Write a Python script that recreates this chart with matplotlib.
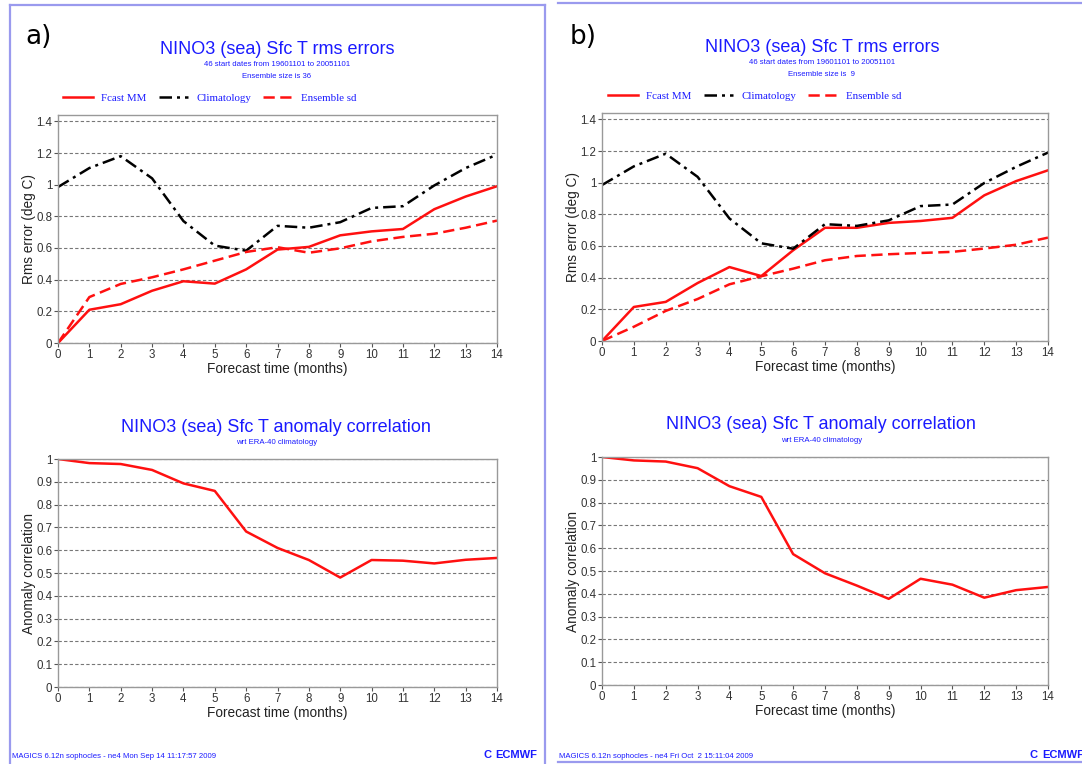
import matplotlib
matplotlib.use('Agg')
import matplotlib.pyplot as plt
from matplotlib.lines import Line2D

# Data
months = list(range(15))

a_fcast_mm = [0.0, 0.21, 0.245, 0.33, 0.39, 0.375, 0.465, 0.59, 0.607, 0.68, 0.705, 0.72, 0.845, 0.925, 0.99]
a_climatology = [0.985, 1.105, 1.18, 1.04, 0.77, 0.615, 0.583, 0.74, 0.728, 0.763, 0.853, 0.864, 0.995, 1.105, 1.19]
a_ensemble_sd = [0.0, 0.29, 0.373, 0.415, 0.465, 0.52, 0.575, 0.605, 0.57, 0.598, 0.642, 0.67, 0.69, 0.728, 0.773]
a_anom_corr = [1.0, 0.982, 0.978, 0.952, 0.893, 0.86, 0.682, 0.61, 0.557, 0.48, 0.557, 0.554, 0.542, 0.558, 0.566]

b_fcast_mm = [0.0, 0.215, 0.247, 0.366, 0.467, 0.41, 0.573, 0.715, 0.715, 0.746, 0.758, 0.778, 0.92, 1.01, 1.078]
b_climatology = [0.985, 1.103, 1.183, 1.037, 0.774, 0.617, 0.583, 0.738, 0.727, 0.762, 0.852, 0.862, 0.998, 1.1, 1.19]
b_ensemble_sd = [0.0, 0.09, 0.19, 0.265, 0.358, 0.409, 0.457, 0.51, 0.537, 0.548, 0.556, 0.563, 0.584, 0.608, 0.653]
b_anom_corr = [1.0, 0.985, 0.98, 0.951, 0.872, 0.825, 0.574, 0.49, 0.436, 0.378, 0.466, 0.44, 0.383, 0.416, 0.43]

rms_ticks = [0, 0.2, 0.4, 0.6, 0.8, 1.0, 1.2, 1.4]
rms_tick_labels = ['0', '0.2', '0.4', '0.6', '0.8', '1', '1.2', '1.4']
ac_ticks = [0, 0.1, 0.2, 0.3, 0.4, 0.5, 0.6, 0.7, 0.8, 0.9, 1.0]
ac_tick_labels = ['0', '0.1', '0.2', '0.3', '0.4', '0.5', '0.6', '0.7', '0.8', '0.9', '1']

panel_letters = ['a)', 'b)']
ensemble_sizes = ['36', ' 9']
footers = ['MAGICS 6.12n sophocles - ne4 Mon Sep 14 11:17:57 2009',
           'MAGICS 6.12n sophocles - ne4 Fri Oct  2 15:11:04 2009']

W, H = 1082, 764
BLUE = '#1a1aff'
RED = '#ff1010'
FRAME = '#9a9aee'
SANS = 'Liberation Sans'

fig = plt.figure(figsize=(W / 100, H / 100), dpi=100)


def box(l, t, r, b):
    return [l / W, 1 - b / H, (r - l) / W, (b - t) / H]


def ftext(x, y, s, **kw):
    fig.text(x / W, 1 - y / H, s, **kw)


def style_axes(ax, ticks, labels, ylim, ylabel):
    ax.set_xlim(0, 14)
    ax.set_ylim(*ylim)
    ax.set_xticks(months)
    ax.set_xticklabels([str(m) for m in months], fontsize=8.3, family=SANS, color='#333333')
    ax.set_yticks(ticks)
    ax.set_yticklabels(labels, fontsize=8.3, family=SANS, color='#333333')
    ax.tick_params(direction='out', length=3, width=0.8, color='#555555', pad=1)
    for s in ax.spines.values():
        s.set_color('#999999')
        s.set_linewidth(1.0)
    ax.yaxis.grid(True, linestyle=(0, (3, 2)), color='#777777', linewidth=0.8)
    ax.set_axisbelow(True)
    ax.set_xlabel('Forecast time (months)', fontsize=9.8, family=SANS, color='#222222', labelpad=1)
    ax.set_ylabel(ylabel, fontsize=9.8, family=SANS, color='#222222', labelpad=0)


panels = [
    (0, 58, 497, 115, 343, 459, 687, a_fcast_mm, a_climatology, a_ensemble_sd, a_anom_corr),
    (545, 602, 1048, 113, 341, 457, 685, b_fcast_mm, b_climatology, b_ensemble_sd, b_anom_corr),
]

for i, (off, l, r, t1, b1, t2, b2, fc, cl, sd, ac) in enumerate(panels):
    # rms errors panel
    ax1 = fig.add_axes(box(l, t1, r, b1))
    h_fc, = ax1.plot(months, fc, color=RED, lw=1.8, solid_joinstyle='round', label='Fcast MM')
    h_cl, = ax1.plot(months, cl, color='black', lw=1.8, linestyle=(0, (5, 2, 1.2, 2)), label='Climatology')
    h_sd, = ax1.plot(months, sd, color=RED, lw=1.8, linestyle=(0, (4.5, 2.2)), label='Ensemble sd')
    style_axes(ax1, rms_ticks, rms_tick_labels, (0, 1.44), 'Rms error (deg C)')
    fig.legend(handles=[h_fc, h_cl, h_sd], loc='center left',
               bbox_to_anchor=((off + 59) / W, 1 - (b1 - 245) / H), ncol=3, frameon=False,
               prop={'family': 'Liberation Serif', 'size': 7.8}, labelcolor=BLUE,
               handlelength=2.7, handletextpad=0.8, columnspacing=1.1, borderaxespad=0)

    ftext(off + 25, 37, panel_letters[i], fontsize=19, family='DejaVu Sans', color='black', va='center')
    ftext(off + 277, b1 - 293, 'NINO3 (sea) Sfc T rms errors', fontsize=13, family=SANS,
          color=BLUE, ha='center', va='center')
    ftext(off + 277, b1 - 278, '46 start dates from 19601101 to 20051101', fontsize=5.6,
          family=SANS, color=BLUE, ha='center', va='center')
    ftext(off + 277, b1 - 266, 'Ensemble size is ' + ensemble_sizes[i], fontsize=5.6,
          family=SANS, color=BLUE, ha='center', va='center')

    # anomaly correlation panel
    ax2 = fig.add_axes(box(l, t2, r, b2))
    ax2.plot(months, ac, color=RED, lw=1.8)
    style_axes(ax2, ac_ticks, ac_tick_labels, (0, 1.0), 'Anomaly correlation')
    ftext(off + 276, t2 - 32, 'NINO3 (sea) Sfc T anomaly correlation', fontsize=13,
          family=SANS, color=BLUE, ha='center', va='center')
    ftext(off + 277, t2 - 16, 'wrt ERA-40 climatology', fontsize=5.6, family=SANS,
          color=BLUE, ha='center', va='center')

    # footer
    ftext(off + 12 if i == 0 else 559, 756, footers[i], fontsize=5.6, family=SANS,
          color=BLUE, va='center')

ftext(483, 755, 'C', fontsize=8, family=SANS, weight='bold', color=BLUE, va='center')
ftext(495, 755, 'ECMWF', fontsize=8, family=SANS, weight='bold', color=BLUE, va='center')
ftext(1030, 755, 'C', fontsize=8, family=SANS, weight='bold', color=BLUE, va='center')
ftext(1042, 755, 'ECMWF', fontsize=8, family=SANS, weight='bold', color=BLUE, va='center')

# page frames
for (x0, y0, x1, y1) in [(10, 5, 545, 5), (10, 5, 10, 764), (545, 5, 545, 764),
                         (558, 3, 1082, 3), (558, 762, 1082, 762)]:
    fig.add_artist(Line2D([x0 / W, x1 / W], [1 - y0 / H, 1 - y1 / H], color=FRAME, lw=1.6))

fig.savefig('out.png', dpi=100, facecolor='white')
